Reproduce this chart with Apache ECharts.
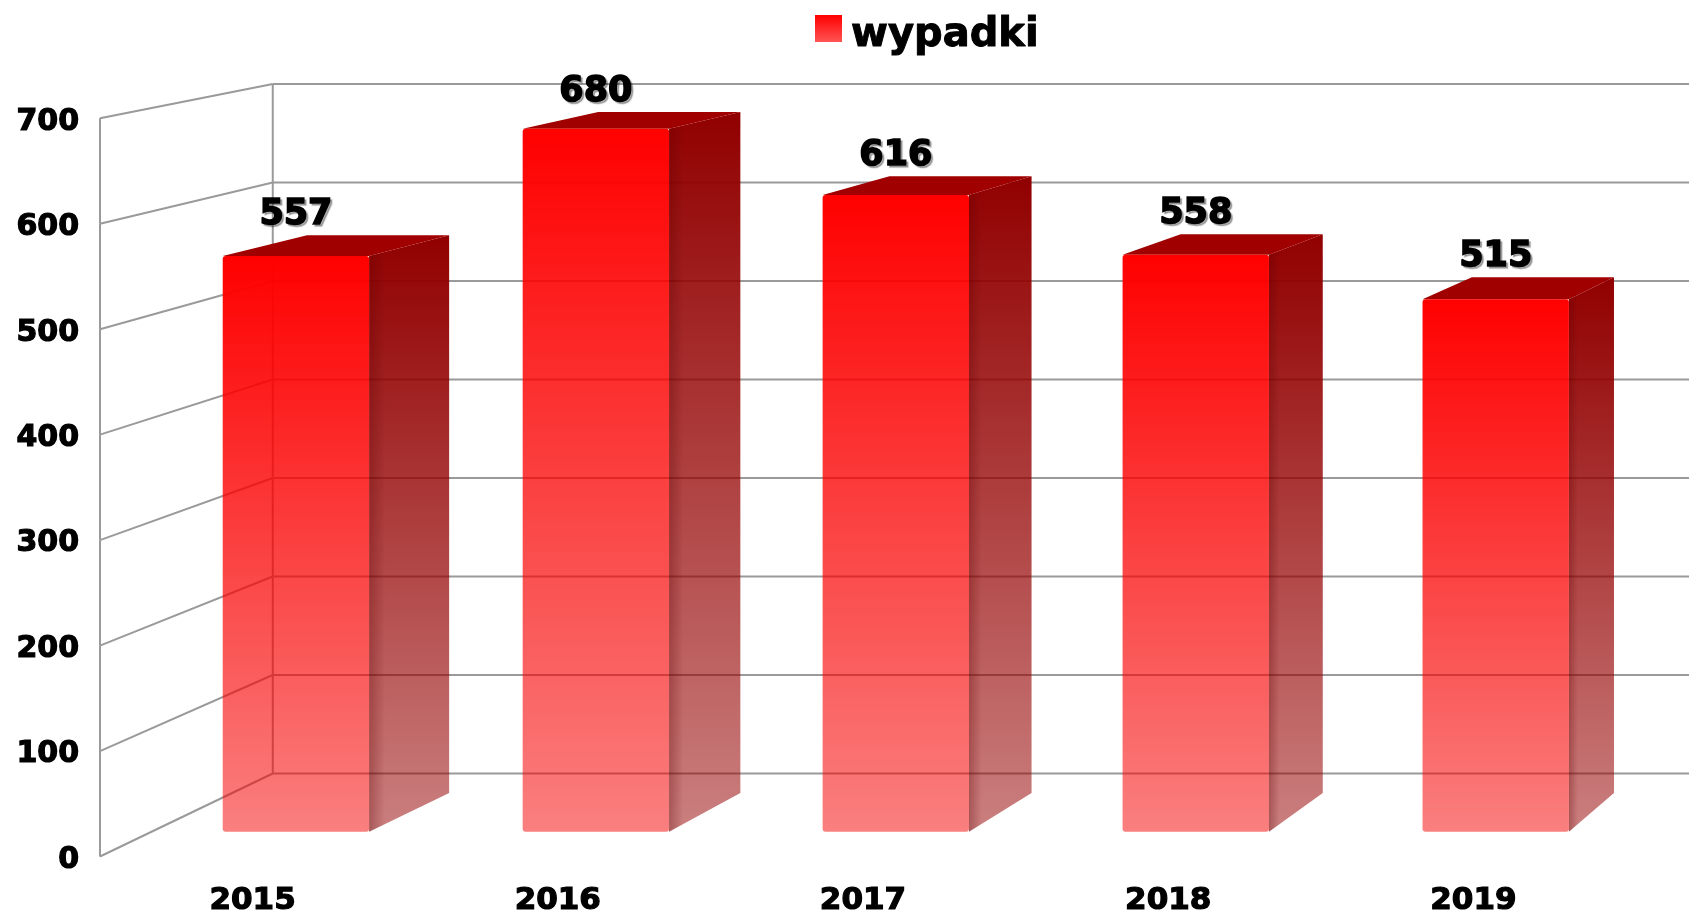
<!DOCTYPE html>
<html>
<head>
<meta charset="utf-8">
<title>wypadki</title>
<script src="https://cdn.jsdelivr.net/npm/echarts@6/dist/echarts.min.js"></script>
<style>
  html, body { margin: 0; padding: 0; background: #fff; }
  #chart { width: 1689px; height: 916px; }
</style>
</head>
<body>
<div id="chart"></div>
<script>
// dane
const categories = ['2015', '2016', '2017', '2018', '2019'];
const values = [557, 680, 616, 558, 515];
const yTicks = [0, 100, 200, 300, 400, 500, 600, 700];
const seriesName = 'wypadki';

// pseudo 3D - punkt zbiegu i glebokosc
const VX = 3115, VY = -401, KX = 0.0573, KY = 0.066;
const BAR_FRONT = [0.30, 0.299];
const BAR_BACK = [0.80, 0.765];
const BAR_FRAC = 0.488;
const BAR_SHIFT = -6;
const FONT = '"DejaVu Sans", sans-serif';

function proj(x, y, d) {
  return [x + d[0] * KX * (VX - x), y + d[1] * KY * (VY - y)];
}

const chart = echarts.init(document.getElementById('chart'));

// siatka (sciany)
const renderWall = function (params, api) {
  const cs = params.coordSys;
  const idx = params.dataIndex;
  const y = api.coord([0, api.value(1)])[1];
  const x0 = cs.x;
  const back = proj(x0, y, [1, 1]);
  const lineStyle = { stroke: '#9a9a9a', lineWidth: 2 };
  const children = [
    { type: 'line', shape: { x1: x0, y1: y, x2: back[0], y2: back[1] }, style: lineStyle },
    { type: 'line', shape: { x1: back[0], y1: back[1], x2: api.getWidth(), y2: back[1] }, style: lineStyle }
  ];
  if (idx < yTicks.length - 1) {
    const y2 = api.coord([0, yTicks[idx + 1]])[1];
    const back2 = proj(x0, y2, [1, 1]);
    children.push({ type: 'line', shape: { x1: x0, y1: y, x2: x0, y2: y2 }, style: lineStyle });
    children.push({ type: 'line', shape: { x1: back[0], y1: back[1], x2: back2[0], y2: back2[1] }, style: lineStyle });
  }
  return { type: 'group', children: children };
};

// slupki 3D
const renderBar = function (params, api) {
  const i = api.value(0);
  const v = api.value(1);
  const top = api.coord([i, v]);
  const bot = api.coord([i, 0]);
  const bw = api.size([1, 0])[0] * BAR_FRAC;
  const cx = top[0] + BAR_SHIFT;
  const xl = cx - bw / 2, xr = cx + bw / 2;

  const flt = proj(xl, top[1], BAR_FRONT), frt = proj(xr, top[1], BAR_FRONT);
  const flb = proj(xl, bot[1], BAR_FRONT), frb = proj(xr, bot[1], BAR_FRONT);
  const blt = proj(xl, top[1], BAR_BACK), brt = proj(xr, top[1], BAR_BACK);
  const brb = proj(xr, bot[1], BAR_BACK);

  const sideFill = new echarts.graphic.LinearGradient(0, 0, 0, 1, [
    { offset: 0, color: 'rgba(145,0,0,1)' },
    { offset: 1, color: 'rgba(150,0,0,0.5)' }
  ]);
  const frontFill = new echarts.graphic.LinearGradient(0, 0, 0, 1, [
    { offset: 0, color: 'rgba(255,0,0,1)' },
    { offset: 1, color: 'rgba(245,0,0,0.5)' }
  ]);
  // ciemniejszy pas przy krawedzi bocznej
  const edgeFill = new echarts.graphic.LinearGradient(0, 0, 1, 0, [
    { offset: 0, color: 'rgba(90,0,0,0.3)' },
    { offset: 1, color: 'rgba(90,0,0,0)' }
  ]);
  const edgeW = (brt[0] - frt[0]) * 0.2;

  return {
    type: 'group',
    children: [
      {
        type: 'polygon',
        shape: { points: [frt, brt, brb, frb] },
        style: { fill: sideFill }
      },
      {
        type: 'polygon',
        shape: { points: [frt, [frt[0] + edgeW, frt[1] - (frt[1] - brt[1]) * 0.2], [frb[0] + edgeW, frb[1] - (frb[1] - brb[1]) * 0.2], frb] },
        style: { fill: edgeFill }
      },
      {
        type: 'polygon',
        shape: { points: [flt, blt, brt, frt] },
        style: { fill: '#a00000' }
      },
      {
        type: 'rect',
        shape: { x: flt[0], y: flt[1], width: frt[0] - flt[0], height: flb[1] - flt[1], r: 3 },
        style: { fill: frontFill }
      },
      {
        type: 'text',
        style: {
          text: String(v),
          x: (flt[0] + frt[0]) / 2,
          y: blt[1] - 3,
          align: 'center',
          verticalAlign: 'bottom',
          fill: '#000',
          stroke: '#000',
          lineWidth: 1.5,
          font: 'bold 35px ' + FONT,
          textShadowColor: 'rgba(0,0,0,0.3)',
          textShadowBlur: 1,
          textShadowOffsetX: 2,
          textShadowOffsetY: 2
        }
      }
    ]
  };
};

const option = {
  animation: false,
  backgroundColor: '#fff',
  legend: {
    data: [seriesName],
    left: 815,
    top: 15,
    padding: 0,
    // kwadrat przesuniety w gore wzgledem tekstu
    icon: 'path://M0,0H27V27H0Z M0,41H0.01',
    itemWidth: 27,
    itemHeight: 41,
    textStyle: {
      fontSize: 40,
      fontWeight: 'bold',
      fontFamily: FONT,
      color: '#000',
      textBorderColor: '#000',
      textBorderWidth: 1,
      padding: [0, 0, 0, 4]
    }
  },
  grid: {
    left: 100,
    right: 63,
    top: 118.3,
    bottom: 59.5,
    containLabel: false,
    outerBoundsMode: 'none'
  },
  xAxis: {
    type: 'category',
    data: categories,
    axisLine: { show: false },
    axisTick: { show: false },
    axisLabel: {
      margin: 29,
      fontSize: 31,
      fontWeight: 'bold',
      fontFamily: FONT,
      color: '#000',
      textBorderColor: '#000',
      textBorderWidth: 1.2
    }
  },
  yAxis: {
    type: 'value',
    min: 0,
    max: 700,
    interval: 100,
    axisLine: { show: false },
    axisTick: { show: false },
    splitLine: { show: false },
    axisLabel: {
      margin: 21,
      formatter: '{v|{value}}',
      rich: {
        v: {
          fontSize: 30,
          fontWeight: 'bold',
          fontFamily: FONT,
          color: '#000',
          textBorderColor: '#000',
          textBorderWidth: 1.2,
          padding: [7, 0, 0, 0]
        }
      }
    }
  },
  series: [
    {
      name: 'siatka',
      type: 'custom',
      renderItem: renderWall,
      data: yTicks.map(function (t) { return [0, t]; }),
      encode: { x: 0, y: 1 },
      clip: false,
      silent: true,
      z: 1
    },
    {
      name: seriesName,
      type: 'custom',
      renderItem: renderBar,
      data: values.map(function (v, i) { return [i, v]; }),
      encode: { x: 0, y: 1 },
      clip: false,
      z: 2,
      itemStyle: {
        color: new echarts.graphic.LinearGradient(0, 0, 0, 1, [
          { offset: 0, color: '#ff0000' },
          { offset: 1, color: '#ff8080' }
        ])
      }
    }
  ]
};

chart.setOption(option);
</script>
</body>
</html>
